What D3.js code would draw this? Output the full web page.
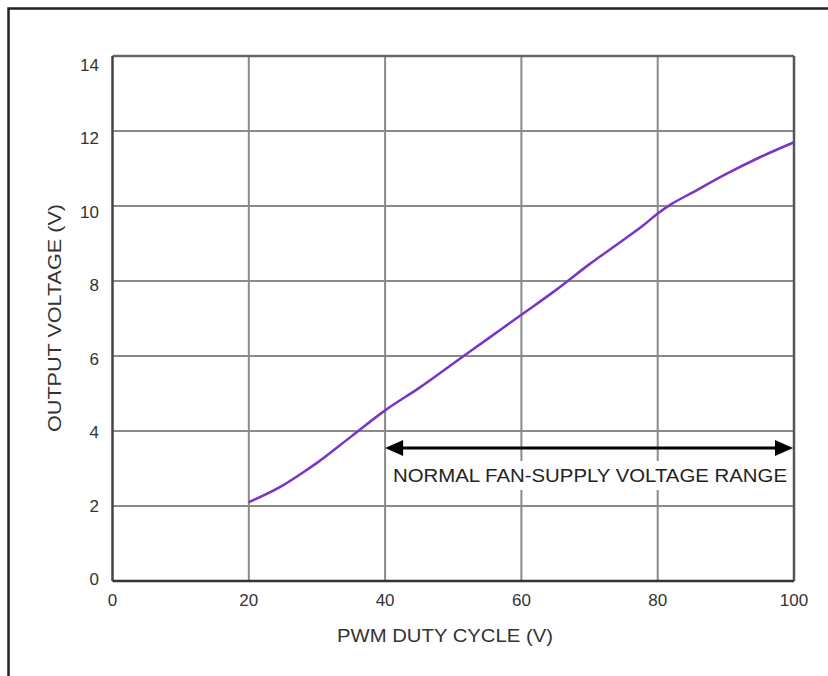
<!DOCTYPE html>
<html><head><meta charset="utf-8">
<script src="https://cdn.jsdelivr.net/npm/d3@7"></script>
<style>html,body{margin:0;padding:0;background:#fff;}svg{display:block;}</style>
</head><body>
<svg id="c" width="828" height="676"></svg>
<script>
const duty = [20, 25, 28, 30, 35, 40, 45, 50, 55, 60, 65, 70, 75, 78, 80, 82, 85, 90, 95, 100];
const volts = [2.1, 2.55, 2.9, 3.15, 3.85, 4.55, 5.15, 5.8, 6.45, 7.1, 7.75, 8.45, 9.1, 9.5, 9.8, 10.05, 10.35, 10.85, 11.3, 11.7];
const xTicks = [0, 20, 40, 60, 80, 100];
const yTicks = [0, 2, 4, 6, 8, 10, 12, 14];
const rangeStart = 40, rangeEnd = 100, rangeLevel = 3.55;
const xTitle = "PWM DUTY CYCLE (V)";
const yTitle = "OUTPUT VOLTAGE (V)";
const rangeLabel = "NORMAL FAN-SUPPLY VOLTAGE RANGE";

const svg = d3.select("#c");
const font = "'Liberation Sans', Arial, Helvetica, sans-serif";
const x = d3.scaleLinear().domain([0, 100]).range([112.5, 794]);
const y = d3.scaleLinear().domain([0, 14]).range([581, 56]);
const yLab = d3.scaleLinear().domain([0, 14]).range([579, 65]);

// outer frame
svg.append("rect").attr("x", 8.5).attr("y", 8.5).attr("width", 840).attr("height", 700)
  .attr("fill", "none").attr("stroke", "#222").attr("stroke-width", 2.5);

// grid
const g = svg.append("g");
g.selectAll(".vg").data(xTicks.slice(1, -1)).join("line")
  .attr("x1", d => x(d)).attr("x2", d => x(d)).attr("y1", y(14)).attr("y2", y(0))
  .attr("stroke", "#8a8a8a").attr("stroke-width", 2);
g.selectAll(".hg").data(yTicks.slice(1, -1)).join("line")
  .attr("x1", x(0)).attr("x2", x(100)).attr("y1", d => y(d)).attr("y2", d => y(d))
  .attr("stroke", "#8a8a8a").attr("stroke-width", 2);

// frame of plot
svg.append("line").attr("x1", x(0)).attr("x2", x(100)).attr("y1", y(14)).attr("y2", y(14))
  .attr("stroke", "#666").attr("stroke-width", 2.5);
svg.append("line").attr("x1", x(100)).attr("x2", x(100)).attr("y1", y(14)).attr("y2", y(0))
  .attr("stroke", "#555").attr("stroke-width", 2.5);
svg.append("line").attr("x1", x(0)).attr("x2", x(0)).attr("y1", y(14)).attr("y2", y(0))
  .attr("stroke", "#444").attr("stroke-width", 2.5);
svg.append("line").attr("x1", x(0)).attr("x2", x(100)).attr("y1", y(0)).attr("y2", y(0))
  .attr("stroke", "#333").attr("stroke-width", 2.5);

// tick labels
svg.selectAll(".xl").data(xTicks).join("text")
  .attr("x", d => x(d)).attr("y", 600).attr("dy", "0.35em")
  .attr("text-anchor", "middle").attr("font-family", font).attr("font-size", 17)
  .attr("fill", "#333").text(d => d);
svg.selectAll(".yl").data(yTicks).join("text")
  .attr("x", 99).attr("y", d => yLab(d)).attr("dy", "0.35em")
  .attr("text-anchor", "end").attr("font-family", font).attr("font-size", 17)
  .attr("fill", "#333").text(d => d);

// axis titles
svg.append("text").attr("x", 445).attr("y", 636).attr("dy", "0.35em")
  .attr("text-anchor", "middle").attr("font-family", font).attr("font-size", 18)
  .attr("textLength", 216).attr("lengthAdjust", "spacingAndGlyphs")
  .attr("fill", "#333").text(xTitle);
svg.append("text").attr("transform", "translate(55,318) rotate(-90)").attr("dy", "0.35em")
  .attr("text-anchor", "middle").attr("font-family", font).attr("font-size", 18)
  .attr("textLength", 228).attr("lengthAdjust", "spacingAndGlyphs")
  .attr("fill", "#333").text(yTitle);

// range label with white background
svg.append("rect").attr("x", 390).attr("y", 461).attr("width", 400).attr("height", 29).attr("fill", "#fff");
svg.append("text").attr("x", 393).attr("y", 475).attr("dy", "0.35em")
  .attr("font-family", font).attr("font-size", 19)
  .attr("textLength", 394).attr("lengthAdjust", "spacingAndGlyphs")
  .attr("fill", "#222").text(rangeLabel);

// double arrow
const ay = y(rangeLevel), ax1 = x(rangeStart), ax2 = x(rangeEnd) - 1;
svg.append("line").attr("x1", ax1 + 10).attr("x2", ax2 - 10).attr("y1", ay).attr("y2", ay)
  .attr("stroke", "#000").attr("stroke-width", 3);
svg.append("path").attr("d", `M${ax1},${ay} L${ax1 + 18},${ay - 8} L${ax1 + 18},${ay + 8} Z`).attr("fill", "#000");
svg.append("path").attr("d", `M${ax2},${ay} L${ax2 - 18},${ay - 8} L${ax2 - 18},${ay + 8} Z`).attr("fill", "#000");

// curve
const line = d3.line().x((d, i) => x(duty[i])).y((d, i) => y(volts[i])).curve(d3.curveMonotoneX);
svg.append("path").datum(volts).attr("d", line)
  .attr("fill", "none").attr("stroke", "#7a35c4").attr("stroke-width", 2.5);
</script>
</body></html>
